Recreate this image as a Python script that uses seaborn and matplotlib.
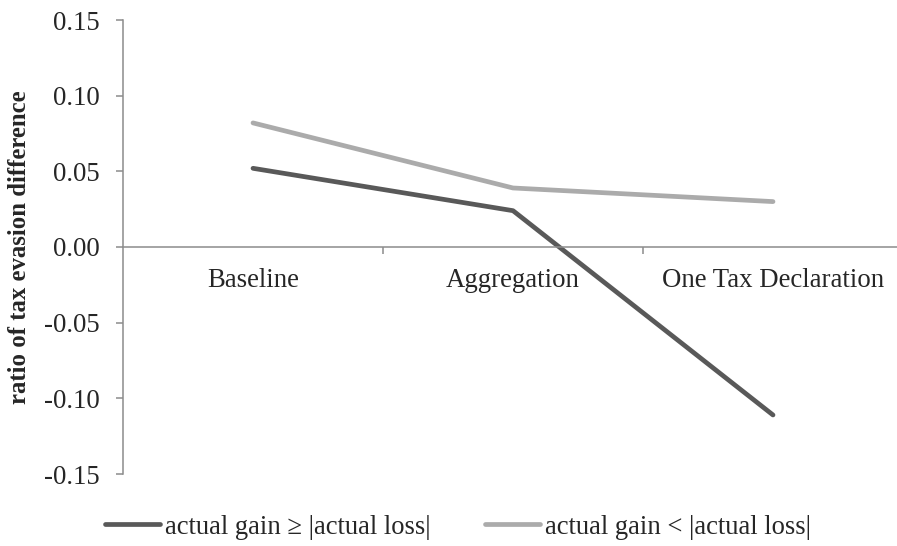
import matplotlib
matplotlib.use("Agg")
import matplotlib.pyplot as plt
import seaborn as sns
import pandas as pd
from matplotlib.lines import Line2D

# Treatments along the x axis
categories = ["Baseline", "Aggregation", "One Tax Declaration"]

# Ratio of tax evasion difference per group
gain_ge_loss = [0.052, 0.024, -0.111]
gain_lt_loss = [0.082, 0.039, 0.030]

series_names = ["actual gain \u2265 |actual loss|", "actual gain < |actual loss|"]
series_colors = ["#595959", "#ababab"]

yticks = [-0.15, -0.10, -0.05, 0.00, 0.05, 0.10, 0.15]

df = pd.DataFrame({
    "pos": list(range(len(categories))) * 2,
    "value": gain_ge_loss + gain_lt_loss,
    "group": [series_names[0]] * 3 + [series_names[1]] * 3,
})

sns.set_style("white")
plt.rcParams["font.family"] = ["Liberation Serif", "DejaVu Serif"]

fig = plt.figure(figsize=(8.97, 5.46), dpi=100)
ax = fig.add_axes([123 / 897, 1 - 474 / 546, 780 / 897, (474 - 20) / 546])

sns.lineplot(data=df, x="pos", y="value", hue="group", palette=series_colors,
             hue_order=series_names, linewidth=3.4, ax=ax, legend=False,
             solid_capstyle="round")

ax.set_xlim(-0.5, 2.5)
ax.set_ylim(-0.15, 0.15)
ax.set_yticks(yticks)
ax.set_yticklabels([f"{t:.2f}" for t in yticks], fontsize=19.3)

spine_col = "#8c8c8c"
for s in ["top", "right"]:
    ax.spines[s].set_visible(False)
ax.spines["left"].set_color(spine_col)
ax.spines["left"].set_linewidth(1.1)
ax.spines["bottom"].set_position(("data", 0))
ax.spines["bottom"].set_color(spine_col)
ax.spines["bottom"].set_linewidth(1.1)

ax.tick_params(axis="y", which="major", left=True, direction="out", length=5,
               width=1.1, color=spine_col, pad=12)
ax.set_xticks(range(len(categories)))
ax.set_xticklabels(categories, fontsize=19.3)
ax.tick_params(axis="x", which="major", bottom=True, length=0, pad=15)
ax.set_xticks([0.5, 1.5], minor=True)
ax.tick_params(axis="x", which="minor", bottom=True, direction="out", length=5,
               width=1.1, color=spine_col)
ax.set_xlabel("")
ax.set_ylabel("ratio of tax evasion difference", fontsize=17.8, fontweight="bold",
              labelpad=9)

handles = [Line2D([], [], color=c, linewidth=3.4, solid_capstyle="round")
           for c in series_colors]
fig.legend(handles, series_names, loc="center", bbox_to_anchor=(458 / 897, 1 - 527 / 546),
           ncol=2, frameon=False, fontsize=19.2, handlelength=2.05, handletextpad=0.2,
           columnspacing=2.05, borderaxespad=0, borderpad=0)

fig.savefig("out.png", dpi=100)
